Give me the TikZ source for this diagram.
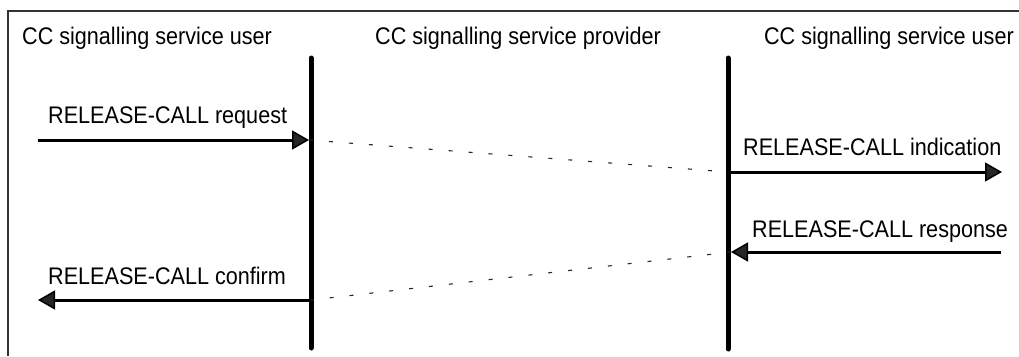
\documentclass[tikz,border=0pt]{standalone}
\usepackage{fontspec}
\setmainfont{Liberation Sans}[FakeStretch=0.9]
\usetikzlibrary{arrows.meta}
\begin{document}
\begin{tikzpicture}[x=1pt,y=-1pt,
  lbl/.style={inner sep=0pt,font=\fontsize{24}{28}\selectfont},
  lifeline/.style={line width=5pt,line cap=round},
  prim/.style={line width=3pt,-{Triangle[length=17pt,width=19pt,fill=black!85,line width=1.5pt]}},
  relay/.style={line width=1.1pt,draw=black!85,dash pattern=on 4pt off 16pt},
  frameline/.style={line width=1.4pt,draw=black!80}]
\useasboundingbox (0,0) rectangle (1019,356);
% frame
\coordinate (fbl) at (8,356);
\coordinate (ftl) at (8,11);
\coordinate (ftr) at (1019,11);
\draw[frameline] (fbl) -- (ftl) -- (ftr);
% headers
\node[lbl,anchor=base west] (h1) at (22,44) {CC signalling service user};
\node[lbl,anchor=base west] (h2) at (375,44) {CC signalling service provider};
\node[lbl,anchor=base east] (h3) at (1014,44) {CC signalling service user};
% lifelines
\coordinate (a1) at (311,58);
\coordinate (a2) at (311,348);
\coordinate (b1) at (728,58);
\coordinate (b2) at (728,349);
\draw[lifeline] (a1) -- (a2);
\draw[lifeline] (b1) -- (b2);
% points on lifelines
\coordinate (aReq) at (309,140);
\coordinate (bInd) at (728,172);
\coordinate (bRsp) at (731,252);
\coordinate (aCnf) at (311,300);
% free ends
\coordinate (uReq) at (38,140);
\coordinate (uInd) at (1002,172);
\coordinate (uRsp) at (1001,252);
\coordinate (uCnf) at (38,300);
% primitives
\draw[prim] (uReq) -- (aReq);
\draw[prim] (bInd) -- (uInd);
\draw[prim] (uRsp) -- (bRsp);
\draw[prim] (aCnf) -- (uCnf);
% relays
\draw[relay] (aReq) -- (bInd);
\draw[relay] (bRsp) -- (aCnf);
% labels
\node[lbl,anchor=base west] (lReq) at (48,123) {RELEASE-CALL request};
\node[lbl,anchor=base west] (lInd) at (743,155) {RELEASE-CALL indication};
\node[lbl,anchor=base west] (lRsp) at (752,237) {RELEASE-CALL response};
\node[lbl,anchor=base west] (lCnf) at (48,284) {RELEASE-CALL confirm};
\end{tikzpicture}
\end{document}
